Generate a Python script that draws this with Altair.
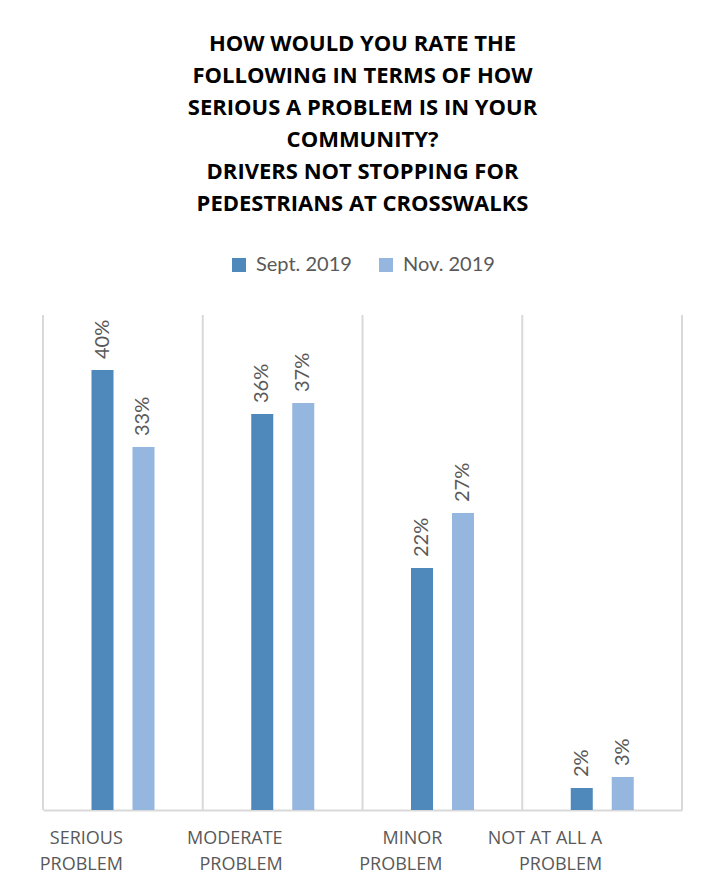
import altair as alt
import pandas as pd

categories = ["SERIOUS PROBLEM", "MODERATE PROBLEM", "MINOR PROBLEM", "NOT AT ALL A PROBLEM"]
series = ["Sept. 2019", "Nov. 2019"]
sept_values = [0.40, 0.36, 0.22, 0.02]
nov_values = [0.33, 0.37, 0.27, 0.03]
colors = ["#4f88bb", "#95b7df"]
title_lines = [
    "HOW WOULD YOU RATE THE",
    "FOLLOWING IN TERMS OF HOW",
    "SERIOUS A PROBLEM IS IN YOUR",
    "COMMUNITY?",
    "DRIVERS NOT STOPPING FOR",
    "PEDESTRIANS AT CROSSWALKS",
]

rows = []
for c, s, n in zip(categories, sept_values, nov_values):
    rows.append({"cat": c, "series": series[0], "value": s})
    rows.append({"cat": c, "series": series[1], "value": n})
df = pd.DataFrame(rows)
grid_df = pd.DataFrame({"cat": categories})

x_enc = alt.X(
    "cat:N",
    sort=categories,
    scale=alt.Scale(paddingInner=0, paddingOuter=0),
    axis=alt.Axis(
        title=None,
        labelAngle=0,
        labelExpr="datum.label == 'NOT AT ALL A PROBLEM' ? ['NOT AT ALL A', 'PROBLEM'] : split(datum.label, ' ')",
        labelFont="Open Sans",
        labelFontSize=18,
        labelColor="#595959",
        labelPadding=28,
        labelLineHeight=26,
        ticks=False,
        grid=False,
        domainColor="#d9d9d9",
        domainWidth=2,
    ),
)
xoff = alt.XOffset(
    "series:N",
    sort=series,
    scale=alt.Scale(range=[28, 132], paddingInner=0.463, paddingOuter=0.5),
)
y_enc = alt.Y("value:Q", scale=alt.Scale(domain=[0, 0.45]), axis=None)

grid = alt.Chart(grid_df).mark_rule(color="#d9d9d9", strokeWidth=2).encode(
    x=alt.X("cat:N", sort=categories, bandPosition=0)
)
right_edge = alt.Chart(grid_df).mark_rule(color="#d9d9d9", strokeWidth=2).encode(
    x=alt.value("width")
)

bars = alt.Chart(df).mark_bar().encode(
    x=x_enc,
    xOffset=xoff,
    y=y_enc,
    color=alt.Color(
        "series:N",
        sort=series,
        scale=alt.Scale(domain=series, range=colors),
        legend=alt.Legend(
            title=None,
            orient="none",
            legendX=186,
            legendY=-60,
            direction="horizontal",
            symbolType="square",
            symbolSize=196,
            symbolStrokeWidth=0,
            labelFont="Lato",
            labelFontSize=20,
            labelColor="#595959",
            labelOffset=7,
            columnPadding=24,
        ),
    ),
)

labels = alt.Chart(df).mark_text(
    angle=270, align="left", baseline="middle", dx=11,
    font="Lato", fontSize=20, color="#595959",
).encode(
    x=alt.X("cat:N", sort=categories),
    xOffset=xoff,
    y=y_enc,
    text=alt.Text("value:Q", format=".0%"),
)

chart = alt.layer(grid, right_edge, bars, labels).properties(
    width=639,
    height=495,
    padding={"left": 31, "top": 25, "right": 20, "bottom": 4},
    title=alt.TitleParams(
        text=title_lines,
        font="Open Sans",
        fontSize=22,
        fontWeight="bold",
        color="#000000",
        lineHeight=32,
        anchor="middle",
        offset=39,
    ),
).configure_view(stroke=None)

chart.save("out.html", embed_options={"renderer": "svg", "actions": False})
